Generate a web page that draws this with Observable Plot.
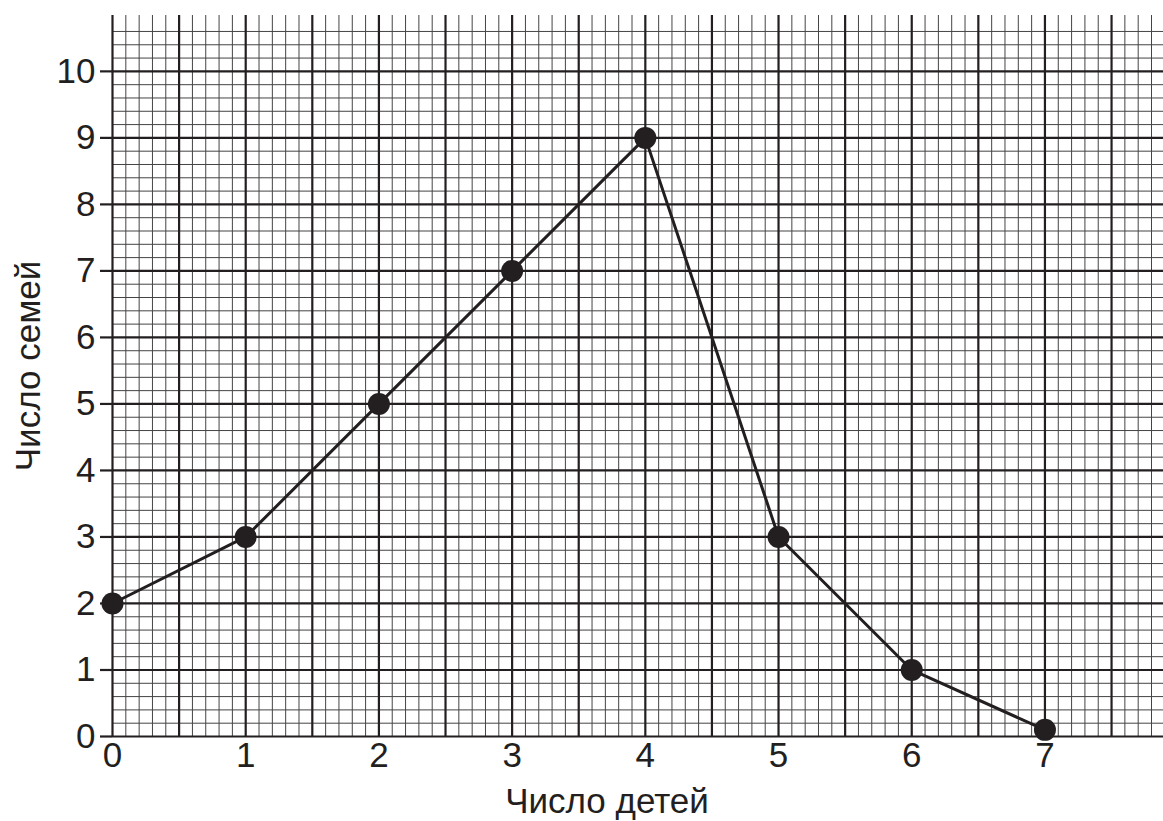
<!DOCTYPE html>
<html><head><meta charset="utf-8">
<script src="https://cdn.jsdelivr.net/npm/d3@7"></script>
<script src="https://cdn.jsdelivr.net/npm/@observablehq/plot@0.6"></script>
<style>html,body{margin:0;padding:0;background:#fff}</style>
</head><body><div id="chart"></div>
<script>
const children = [0, 1, 2, 3, 4, 5, 6, 7];
const families = [2, 3, 5, 7, 9, 3, 1, 0.1];
const xTickValues = [0, 1, 2, 3, 4, 5, 6, 7];
const yTickValues = [0, 1, 2, 3, 4, 5, 6, 7, 8, 9, 10];
const xLabel = "Число детей";
const yLabel = "Число семей";

const points = children.map((c, i) => ({children: c, families: families[i]}));
const xMax = 7.89, yMax = 10.84;
const vMinor = d3.range(0, 79).map(i => i / 10).filter(v => Math.round(v * 10) % 5 !== 0);
const vMajor = d3.range(0, 16).map(i => i / 2);
const hMinor = d3.range(1, 54).map(i => i / 5).filter(v => Math.round(v * 5) % 5 !== 0);
const hMajor = d3.range(0, 11);
const ink = "#231f20";

const chart = Plot.plot({
  width: 1163, height: 821,
  marginLeft: 112, marginRight: 0, marginTop: 15, marginBottom: 85,
  x: {domain: [0, xMax]},
  y: {domain: [0, yMax]},
  style: {fontFamily: "'Liberation Sans', Arial, sans-serif", color: ink, background: "#fff"},
  marks: [
    Plot.ruleX(vMinor, {x: d => d, y1: 0, y2: yMax, stroke: "#444", strokeWidth: 1}),
    Plot.ruleY(hMinor, {y: d => d, x1: 0, x2: xMax, stroke: "#444", strokeWidth: 1}),
    Plot.ruleX(vMajor, {x: d => d, y1: 0, y2: yMax, stroke: ink, strokeWidth: 2.2}),
    Plot.ruleY(hMajor, {y: d => d, x1: 0, x2: xMax, stroke: ink, strokeWidth: 2.2}),
    Plot.axisY(yTickValues, {tickSize: 12, tickPadding: 5, fontSize: 35, label: null, strokeWidth: 2.2, tickFormat: d => String(d)}),
    Plot.axisX(xTickValues, {tickSize: 0, tickPadding: 6, fontSize: 35, label: null, tickFormat: d => String(d)}),
    Plot.line(points, {x: "children", y: "families", stroke: ink, strokeWidth: 3}),
    Plot.dot(points, {x: "children", y: "families", r: 11, fill: ink}),
    Plot.text([xLabel], {frameAnchor: "bottom", dx: -31, dy: 65, fontSize: 35, text: d => d, lineAnchor: "middle", textAnchor: "middle", fill: ink}),
    Plot.text([yLabel], {frameAnchor: "left", rotate: -90, dx: -84, dy: -10, fontSize: 35, text: d => d, lineAnchor: "middle", textAnchor: "middle", fill: ink})
  ]
});
document.getElementById("chart").append(chart);
</script>
</body></html>
